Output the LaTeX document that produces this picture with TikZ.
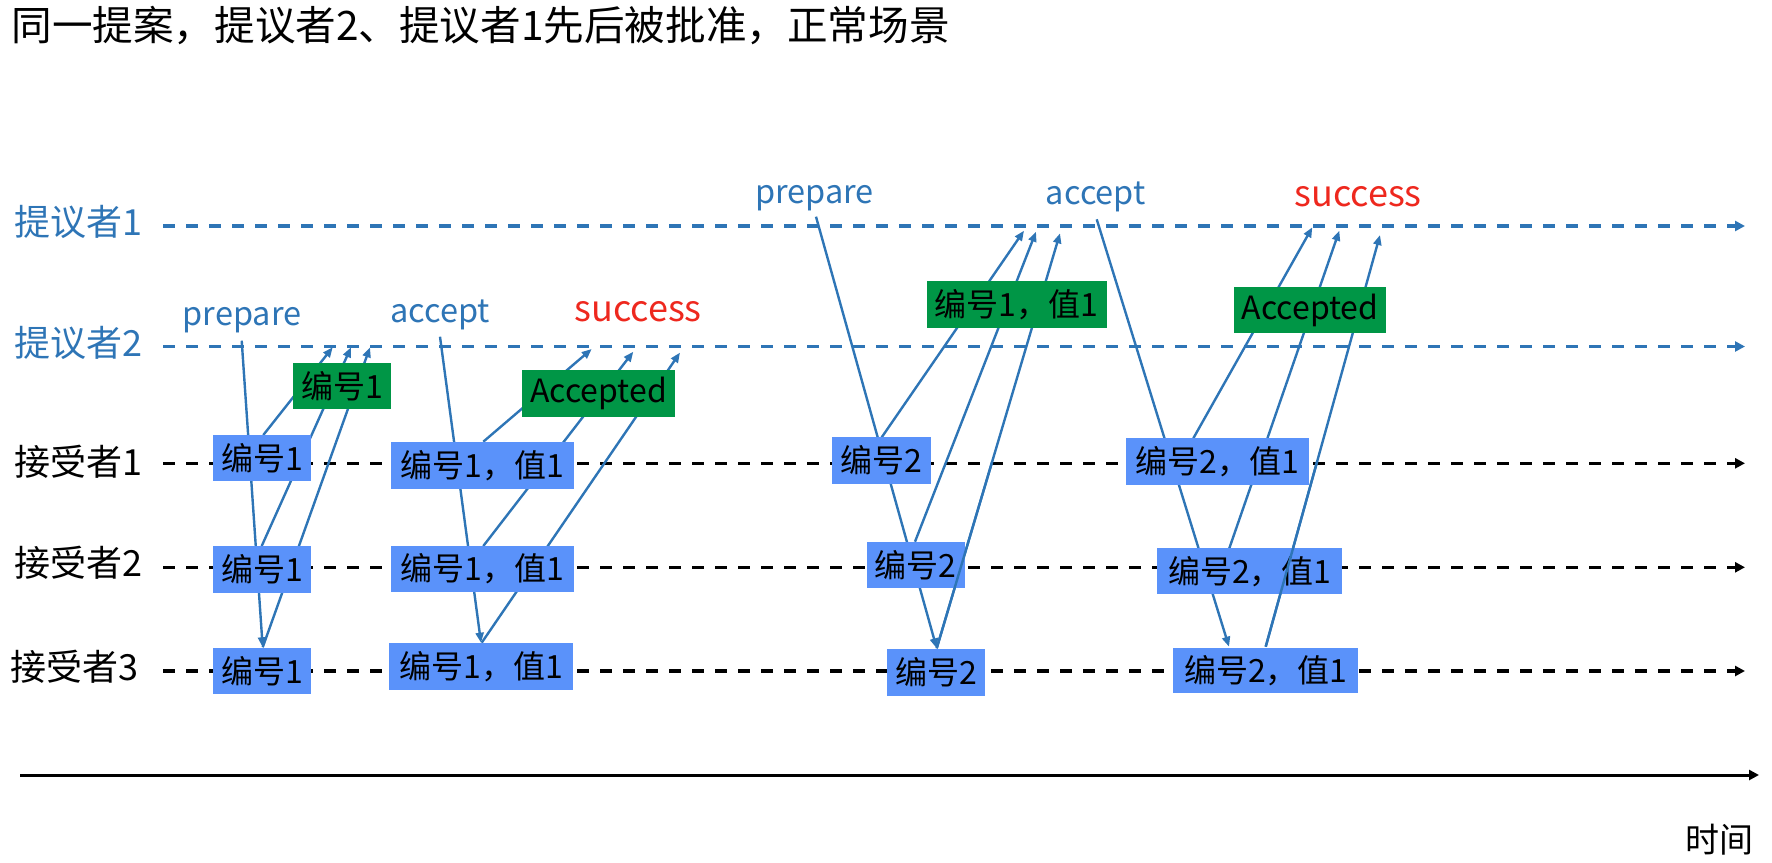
\documentclass[tikz,border=0pt]{standalone}
\usepackage{fontspec}
\setmainfont{Noto Sans CJK SC}
\usetikzlibrary{arrows.meta,calc}
\definecolor{pblue}{RGB}{46,117,182}
\definecolor{bxblue}{RGB}{90,146,250}
\definecolor{bxgreen}{RGB}{0,150,70}
\definecolor{sred}{RGB}{238,40,30}
\tikzset{
  lane/.style={line width=1.6pt, dash pattern=on 6pt off 5.5pt, -{Triangle[length=5pt,width=5pt]}},
  msg/.style={pblue, line width=1.2pt, -{Triangle[length=5pt,width=4pt]}},
  seg/.style={pblue, line width=1.2pt},
  bbox/.style={fill=bxblue, inner sep=0pt, font=\fontsize{16pt}{18pt}\selectfont},
  gbox/.style={fill=bxgreen, inner sep=0pt, font=\fontsize{16pt}{18pt}\selectfont},
  lbl/.style={font=\fontsize{18pt}{20pt}\selectfont},
  phase/.style={pblue, anchor=base, font=\fontsize{16.25pt}{19pt}\selectfont},
  succ/.style={sred, anchor=base, font=\fontsize{18pt}{21pt}\selectfont}
}
\begin{document}
\begin{tikzpicture}[x=0.5pt,y=-0.5pt]
\useasboundingbox (0,0) rectangle (1772,862);
% title
\node[anchor=west, inner sep=0pt, font=\fontsize{20.3pt}{24pt}\selectfont] (title) at (11,25) {同一提案，提议者2、提议者1先后被批准，正常场景};
% lane labels
\node[lbl, pblue] (lp1) at (78,222) {提议者1};
\node[lbl, pblue] (lp2) at (78,343) {提议者2};
\node[lbl] (la1) at (78,462) {接受者1};
\node[lbl] (la2) at (78,563) {接受者2};
\node[lbl] (la3) at (74,667) {接受者3};
% lane coordinates
\coordinate (p1a) at (163,226);   \coordinate (p1b) at (1745,226);
\coordinate (p2a) at (163,346.5); \coordinate (p2b) at (1745,346.5);
\coordinate (a1a) at (163,463.3); \coordinate (a1b) at (1745,463.3);
\coordinate (a2a) at (163,567.3); \coordinate (a2b) at (1745,567.3);
\coordinate (a3a) at (163,671);   \coordinate (a3b) at (1745,671);
\coordinate (ta) at (20,775);     \coordinate (tb) at (1759,775);
\draw[lane, pblue] (p1a) -- (p1b);
\draw[lane, pblue] (p2a) -- (p2b);
\draw[lane, black] (a1a) -- (a1b);
\draw[lane, black] (a2a) -- (a2b);
\draw[lane, black] (a3a) -- (a3b);
\draw[line width=1.5pt, -{Triangle[length=5pt,width=5pt]}] (ta) -- (tb);
\node[font=\fontsize{17pt}{20pt}\selectfont] (time) at (1719,840) {时间};
% phase labels
\node[phase] (prep1) at (242,325) {prepare};
\node[phase] (acc1) at (440,322.7) {accept};
\node[succ] (suc1) at (638,321.7) {success};
\node[phase] (prep2) at (814.5,203.3) {prepare};
\node[phase] (acc2) at (1095.8,204) {accept};
\node[succ] (suc2) at (1358,206) {success};
% message coordinates, phase 1
\coordinate (m1s) at (241.7,340.7); \coordinate (m1e) at (262.7,647.3);
\coordinate (r11s) at (263.3,435);  \coordinate (r11e) at (332.7,347.3);
\coordinate (r12s) at (261.7,546);  \coordinate (r12e) at (351,347.3);
\coordinate (r13s) at (262.7,647.3);\coordinate (r13e) at (370,347.3);
\coordinate (m2s) at (440,336.7);   \coordinate (m2e) at (481,642.7);
\coordinate (s11s) at (483.3,441.7);\coordinate (s11e) at (591.7,349);
\coordinate (s12s) at (483.3,546);  \coordinate (s12e) at (633.3,351.7);
\coordinate (s13s) at (481.7,642.7);\coordinate (s13e) at (680,352.6);
% phase 2
\coordinate (m3s) at (816,216.7);   \coordinate (m3e) at (936.7,648.3);
\coordinate (q1s) at (881.7,437.3); \coordinate (q1e) at (1024,230.7);
\coordinate (q2s) at (915,541.7);   \coordinate (q2e) at (1036,231.7);
\coordinate (q3s) at (936.7,648.3); \coordinate (q3e) at (1060,233.3);
\coordinate (m4s) at (1096.7,219.3);\coordinate (m4e) at (1229,646.7);
\coordinate (t1s) at (1193.3,438.3);\coordinate (t1e) at (1312.3,227.3);
\coordinate (t2s) at (1229.3,548.3);\coordinate (t2e) at (1339.3,230.7);
\coordinate (t3s) at (1265.7,646.7);\coordinate (t3e) at (1380,235);
\draw[msg] (m1s) -- (m1e);
\draw[msg] (r11s) -- (r11e);
\draw[msg] (r12s) -- (r12e);
\draw[msg] (r13s) -- (r13e);
\draw[msg] (m2s) -- (m2e);
\draw[msg] (s11s) -- (s11e);
\draw[msg] (s12s) -- (s12e);
\draw[msg] (s13s) -- (s13e);
\draw[msg] (m3s) -- (m3e);
\draw[msg] (q1s) -- (q1e);
\draw[msg] (q2s) -- (q2e);
\draw[msg] (q3s) -- (q3e);
\draw[msg] (m4s) -- (m4e);
\draw[msg] (t1s) -- (t1e);
\draw[msg] (t2s) -- (t2e);
\draw[msg] (t3s) -- (t3e);
% boxes phase 1
\node[bbox, minimum width=49pt, minimum height=23pt] (b11) at (262,458) {编号1};
\node[bbox, minimum width=49pt, minimum height=23.3pt] (b12) at (262,569.3) {编号1};
\node[bbox, minimum width=49pt, minimum height=23.3pt] (b13) at (262,671) {编号1};
\node[gbox, minimum width=49pt, minimum height=23.3pt] (g1) at (342.3,386) {编号1};
\node[bbox, minimum width=91.8pt, minimum height=23.8pt] (c11) at (482.5,465.5) {编号1，值1};
\node[bbox, minimum width=91.8pt, minimum height=22.9pt] (c12) at (482.5,568.8) {编号1，值1};
\node[bbox, minimum width=92.3pt, minimum height=23.3pt] (c13) at (481,666.7) {编号1，值1};
\node[gbox, minimum width=76.5pt, minimum height=23.3pt] (ga1) at (598.5,393.3) {Accepted};
% boxes phase 2
\node[bbox, minimum width=49.2pt, minimum height=23.3pt] (d1) at (881.5,460.7) {编号2};
\node[bbox, minimum width=49.2pt, minimum height=23.3pt] (d2) at (915.8,565) {编号2};
\node[bbox, minimum width=49.2pt, minimum height=23.3pt] (d3) at (936.2,672.3) {编号2};
\node[gbox, minimum width=90pt, minimum height=23.3pt] (g2) at (1016.7,304.3) {编号1，值1};
\node[bbox, minimum width=91.5pt, minimum height=23.3pt] (e1) at (1217.5,461.7) {编号2，值1};
\node[bbox, minimum width=92.5pt, minimum height=22.9pt] (e2) at (1249.8,571.2) {编号2，值1};
\node[bbox, minimum width=92.5pt, minimum height=22.9pt] (e3) at (1265.8,670.5) {编号2，值1};
\node[gbox, minimum width=76pt, minimum height=23.3pt] (ga2) at (1310,310) {Accepted};
% lines drawn over boxes
\draw[seg] (q3s) -- ($(q3s)!0.45!(q3e)$);
\draw[seg] (t3s) -- ($(t3s)!0.45!(t3e)$);
\end{tikzpicture}
\end{document}
